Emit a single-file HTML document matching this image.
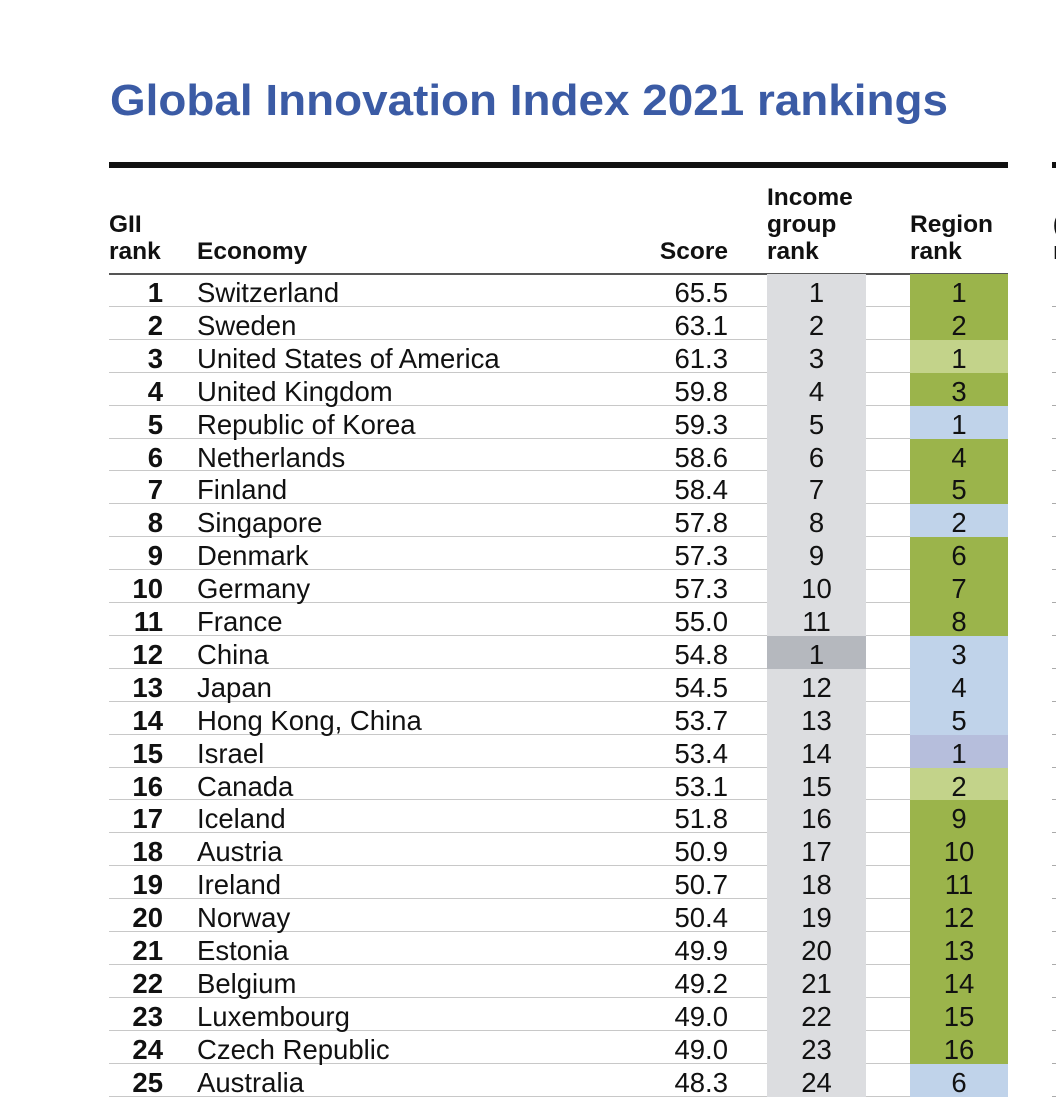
<!DOCTYPE html>
<html><head><meta charset="utf-8">
<style>
html,body{margin:0;padding:0;background:#fff;}
body{width:1056px;height:1074px;position:relative;overflow:hidden;font-family:"Liberation Sans",Arial,sans-serif;color:#111;}
.abs{position:absolute;white-space:nowrap;}
#title{left:110px;top:76px;font-size:44px;font-weight:bold;color:#3b5ba5;transform-origin:0 0;}
.hd{font-size:24.5px;font-weight:bold;line-height:27px;}
.cell{position:absolute;font-size:27.5px;line-height:33px;white-space:nowrap;}
.txt{padding-top:2px;}
</style></head>
<body>
<div id="title" class="abs">Global Innovation Index 2021 rankings</div>
<div class="abs" style="left:109px;top:162px;width:899px;height:6px;background:#111;"></div>
<div class="abs" style="left:1052px;top:162px;width:4px;height:6px;background:#111;"></div>
<div class="abs hd" style="left:109px;top:211px;">GII<br>rank</div>
<div class="abs hd" style="left:197px;top:238px;">Economy</div>
<div class="abs hd" style="left:600px;width:128px;text-align:right;top:238px;">Score</div>
<div class="abs hd" style="left:767px;top:184px;">Income<br>group<br>rank</div>
<div class="abs hd" style="left:910px;top:211px;">Region<br>rank</div>
<div class="abs hd" style="left:1053px;top:211px;">(<br>r</div>
<div class="abs" style="left:109px;top:273px;width:899px;height:1.5px;background:#555;"></div>
<div id="table"></div>
<script>
const ranks=[1,2,3,4,5,6,7,8,9,10,11,12,13,14,15,16,17,18,19,20,21,22,23,24,25];
const economies=["Switzerland","Sweden","United States of America","United Kingdom","Republic of Korea","Netherlands","Finland","Singapore","Denmark","Germany","France","China","Japan","Hong Kong, China","Israel","Canada","Iceland","Austria","Ireland","Norway","Estonia","Belgium","Luxembourg","Czech Republic","Australia"];
const scores=["65.5","63.1","61.3","59.8","59.3","58.6","58.4","57.8","57.3","57.3","55.0","54.8","54.5","53.7","53.4","53.1","51.8","50.9","50.7","50.4","49.9","49.2","49.0","49.0","48.3"];
const incomeRanks=[1,2,3,4,5,6,7,8,9,10,11,1,12,13,14,15,16,17,18,19,20,21,22,23,24];
const incomeGroups=["H","H","H","H","H","H","H","H","H","H","H","UM","H","H","H","H","H","H","H","H","H","H","H","H","H"];
const regionRanks=[1,2,1,3,1,4,5,2,6,7,8,3,4,5,1,2,9,10,11,12,13,14,15,16,6];
const regionGroups=["EUR","EUR","NAC","EUR","SEAO","EUR","EUR","SEAO","EUR","EUR","EUR","SEAO","SEAO","SEAO","NAWA","NAC","EUR","EUR","EUR","EUR","EUR","EUR","EUR","EUR","SEAO"];
const regionColors={EUR:"#9bb44b",NAC:"#c3d38a",SEAO:"#c0d3ea",NAWA:"#b6bedc"};
const incomeColors={H:"#dcdde0",UM:"#b5b8be"};
const top0=274, rowH=32.9;
const yTop=i=>top0+i*rowH;
const t=document.getElementById('table');
function mk(style,text){const d=document.createElement('div');d.className='cell'+(text!==undefined?' txt':'');d.style.cssText=style;if(text!==undefined)d.textContent=text;t.appendChild(d);return d;}
ranks.forEach((r,i)=>{
  const y=yTop(i);
  let e;
  e=mk(`left:109px;top:${y+rowH-1}px;width:658px;height:1px;background:#c8c8c8;`);
  
  
  e=mk(`left:866px;top:${y+rowH-1}px;width:44px;height:1px;background:#c8c8c8;`);
  
  
  e=mk(`left:1052px;top:${y+rowH-1}px;width:4px;height:1px;background:#aaa;`);
  
  
  e=mk(`left:767px;top:${y}px;width:99px;height:${rowH+0.5}px;background:${incomeColors[incomeGroups[i]]};`);
  
  
  e=mk(`left:910px;top:${y}px;width:98px;height:${rowH+0.5}px;background:${regionColors[regionGroups[i]]};`);
  
  
  e=mk(`left:100px;width:63px;text-align:right;top:${y}px;font-weight:bold;`,String(r));
  
  
  e=mk(`left:197px;top:${y}px;`,economies[i]);
  
  
  e=mk(`left:600px;width:128px;text-align:right;top:${y}px;`,scores[i]);
  
  
  e=mk(`left:767px;width:99px;text-align:center;top:${y}px;`,String(incomeRanks[i]));
  
  
  e=mk(`left:910px;width:98px;text-align:center;top:${y}px;`,String(regionRanks[i]));
  
  
});
const ti=document.getElementById('title');
const w=ti.getBoundingClientRect().width;
ti.style.transform=`scaleX(${838/w})`;
</script>
</body></html>
